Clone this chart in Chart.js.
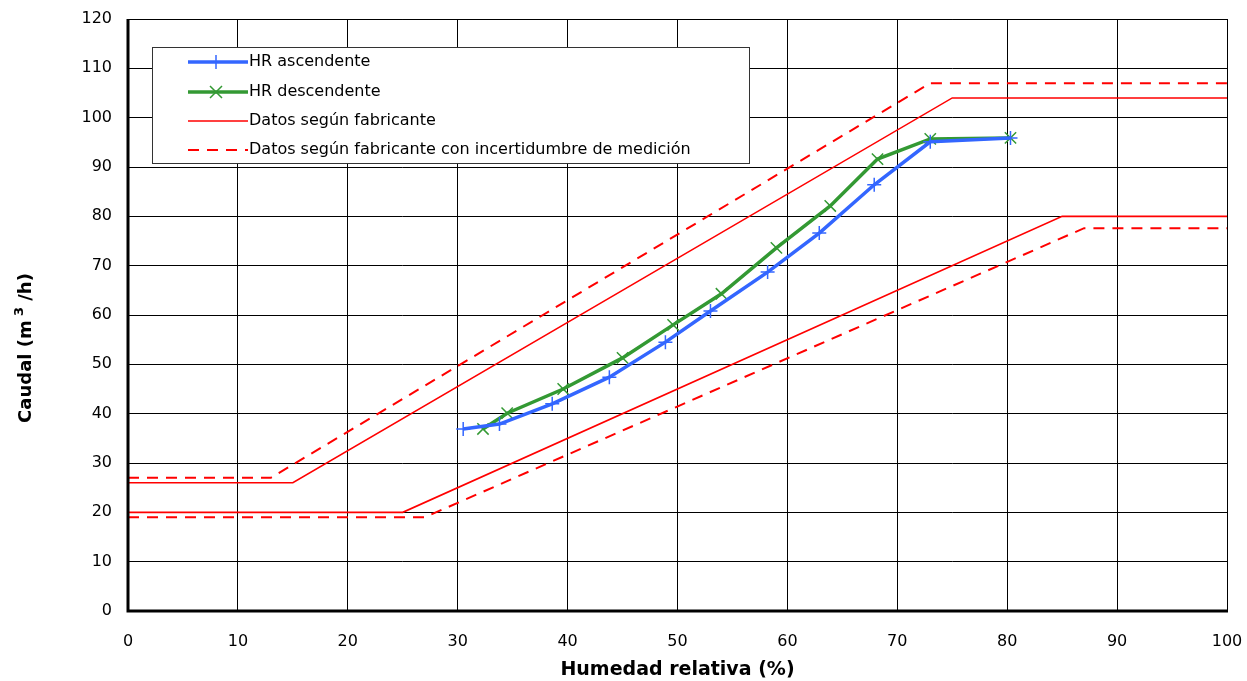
<!doctype html>
<html lang="es">
  <head>
    <meta charset="utf-8">
    <title>Caudal vs Humedad relativa</title>
    <style>
      html, body { margin: 0; padding: 0; background: #fff; overflow: hidden; }
      canvas { display: block; }
    </style>
  </head>
  <body>
    <canvas id="myChart" width="1247" height="681"></canvas>
    <script src="https://cdn.jsdelivr.net/npm/chart.js"></script>
    <script>
      // measured series (x = HR %, y = caudal m3/h)
      const ascX = [30.5, 33.8, 38.6, 43.8, 48.9, 53.0, 58.2, 62.9, 67.9, 73.0, 80.3];
      const ascY = [36.9, 37.9, 42.0, 47.4, 54.5, 60.8, 68.7, 76.6, 86.4, 95.1, 95.9];
      const descX = [32.3, 34.5, 39.6, 45.0, 49.6, 54.0, 59.0, 63.9, 68.2, 73.0, 80.3];
      const descY = [36.9, 40.1, 45.0, 51.3, 58.0, 64.3, 73.6, 82.1, 91.6, 95.7, 95.9];

      // manufacturer bands
      const fabUpX = [0, 15, 75, 100];
      const fabUpY = [26, 26, 104, 104];
      const fabLoX = [0, 25, 85, 100];
      const fabLoY = [20, 20, 80, 80];
      const incUpX = [0, 13, 73, 100];
      const incUpY = [27, 27, 107, 107];
      const incLoX = [0, 27, 87, 100];
      const incLoY = [19, 19, 77.6, 77.6];

      const xTicks = [0, 10, 20, 30, 40, 50, 60, 70, 80, 90, 100];
      const yTicks = [0, 10, 20, 30, 40, 50, 60, 70, 80, 90, 100, 110, 120];

      const legendLabels = [
        'HR ascendente',
        'HR descendente',
        'Datos según fabricante',
        'Datos según fabricante con incertidumbre de medición'
      ];

      const pts = (xs, ys) => xs.map((x, i) => ({x: x, y: ys[i]}));
      const FONT = '"DejaVu Sans", sans-serif';

      const redSolid = (xs, ys) => ({
        data: pts(xs, ys), showLine: true, borderColor: '#ff0000', borderWidth: 1.6,
        pointRadius: 0, fill: false, tension: 0
      });
      const redDash = (xs, ys) => ({
        data: pts(xs, ys), showLine: true, borderColor: '#ff0000', borderWidth: 2,
        borderDash: [11, 8], pointRadius: 0, fill: false, tension: 0
      });

      const datasets = [
        redSolid(fabUpX, fabUpY),
        redSolid(fabLoX, fabLoY),
        redDash(incUpX, incUpY),
        redDash(incLoX, incLoY),
        {
          data: pts(ascX, ascY), showLine: true, borderColor: '#3366ff', borderWidth: 3.5,
          pointStyle: 'cross', pointRadius: 7, pointBorderWidth: 1.5,
          pointBorderColor: '#3366ff', pointBackgroundColor: '#3366ff', tension: 0
        },
        {
          data: pts(descX, descY), showLine: true, borderColor: '#339933', borderWidth: 3.5,
          pointStyle: 'crossRot', pointRadius: 8, pointBorderWidth: 1.5,
          pointBorderColor: '#339933', pointBackgroundColor: '#339933', tension: 0
        }
      ];

      // legend box drawn inside the plot area
      const boxLegend = {
        id: 'boxLegend',
        afterDatasetsDraw(chart) {
          const ctx = chart.ctx;
          const x0 = 152, y0 = 47, w = 597, h = 116;
          ctx.save();
          ctx.fillStyle = '#fff';
          ctx.fillRect(x0, y0, w, h);
          ctx.strokeStyle = '#333';
          ctx.lineWidth = 1;
          ctx.strokeRect(x0 + 0.5, y0 + 0.5, w, h);
          const rows = [62, 92, 121, 150];
          const styles = [
            {c: '#3366ff', w: 3.5, dash: [], mark: '+'},
            {c: '#339933', w: 3.5, dash: [], mark: 'x'},
            {c: '#ff0000', w: 1.6, dash: [], mark: null},
            {c: '#ff0000', w: 2, dash: [11, 8], mark: null}
          ];
          ctx.font = '16px ' + FONT;
          ctx.textBaseline = 'middle';
          rows.forEach((yy, i) => {
            const s = styles[i];
            ctx.strokeStyle = s.c;
            ctx.lineWidth = s.w;
            ctx.setLineDash(s.dash);
            ctx.beginPath();
            ctx.moveTo(188, yy);
            ctx.lineTo(248, yy);
            ctx.stroke();
            ctx.setLineDash([]);
            ctx.lineWidth = 1.5;
            if (s.mark === '+') {
              ctx.beginPath();
              ctx.moveTo(216, yy - 7); ctx.lineTo(216, yy + 7);
              ctx.stroke();
            } else if (s.mark === 'x') {
              ctx.beginPath();
              ctx.moveTo(210, yy - 6); ctx.lineTo(222, yy + 6);
              ctx.moveTo(222, yy - 6); ctx.lineTo(210, yy + 6);
              ctx.stroke();
            }
            ctx.fillStyle = '#000';
            ctx.fillText(legendLabels[i], 249, yy);
          });
          ctx.restore();
        }
      };

      // thick left and bottom axes, thin top and right frame, y title with superscript
      const frame = {
        id: 'frame',
        afterDraw(chart) {
          const a = chart.chartArea, ctx = chart.ctx;
          ctx.save();
          ctx.strokeStyle = '#000';
          ctx.lineWidth = 1;
          ctx.beginPath();
          ctx.moveTo(a.left, a.top + 0.5); ctx.lineTo(a.right + 0.5, a.top + 0.5);
          ctx.lineTo(a.right + 0.5, a.bottom);
          ctx.stroke();
          ctx.lineWidth = 3;
          ctx.beginPath();
          ctx.moveTo(a.left, a.top); ctx.lineTo(a.left, a.bottom);
          ctx.lineTo(a.right + 1, a.bottom);
          ctx.stroke();

          // y axis title: "Caudal (m" + superscript 3 + "/h)"
          const big = 'bold 18px ' + FONT, small = 'bold 13px ' + FONT;
          const p1 = 'Caudal (m ', p2 = '3', p3 = ' /h)';
          ctx.font = big;
          const w1 = ctx.measureText(p1).width, w3 = ctx.measureText(p3).width;
          ctx.font = small;
          const w2 = ctx.measureText(p2).width;
          const total = w1 + w2 + w3;
          ctx.translate(31, 347);
          ctx.rotate(-Math.PI / 2);
          ctx.fillStyle = '#000';
          ctx.textBaseline = 'alphabetic';
          let cx = -total / 2;
          ctx.font = big;
          ctx.fillText(p1, cx, 0); cx += w1;
          ctx.font = small;
          ctx.fillText(p2, cx - 2, -8); cx += w2;
          ctx.font = big;
          ctx.fillText(p3, cx - 2, 0);
          ctx.restore();
        }
      };

      const config = {
        type: 'scatter',
        data: { datasets },
        options: {
          responsive: false,
          animation: false,
          layout: { padding: { top: 19, right: 20, left: 0, bottom: 0 } },
          scales: {
            x: {
              type: 'linear', min: 0, max: 100,
              afterBuildTicks: (s) => { s.ticks = xTicks.map(v => ({value: v})); },
              afterFit: (s) => { s.height = 70; s.paddingLeft = 0; s.paddingRight = 0; },
              grid: { color: '#000', lineWidth: 1, drawTicks: false },
              border: { display: false },
              ticks: { color: '#000', font: { family: FONT, size: 16 }, padding: 21, maxRotation: 0 },
              title: { display: true, text: 'Humedad relativa (%)', color: '#000',
                font: { family: FONT, size: 19, weight: 'bold' }, padding: { top: 0, bottom: 0 } }
            },
            y: {
              type: 'linear', min: 0, max: 120,
              afterBuildTicks: (s) => { s.ticks = yTicks.map(v => ({value: v})); },
              afterFit: (s) => { s.width = 128; s.paddingTop = 0; s.paddingBottom = 0; },
              grid: { color: '#000', lineWidth: 1, drawTicks: false },
              border: { display: false },
              ticks: { color: '#000', font: { family: FONT, size: 16 }, padding: 16 },
              title: { display: false }
            }
          },
          plugins: {
            legend: { display: false },
            tooltip: { enabled: false }
          }
        },
        plugins: [boxLegend, frame]
      };

      const myChart = new Chart(document.getElementById('myChart'), config);
    </script>
  </body>
</html>
